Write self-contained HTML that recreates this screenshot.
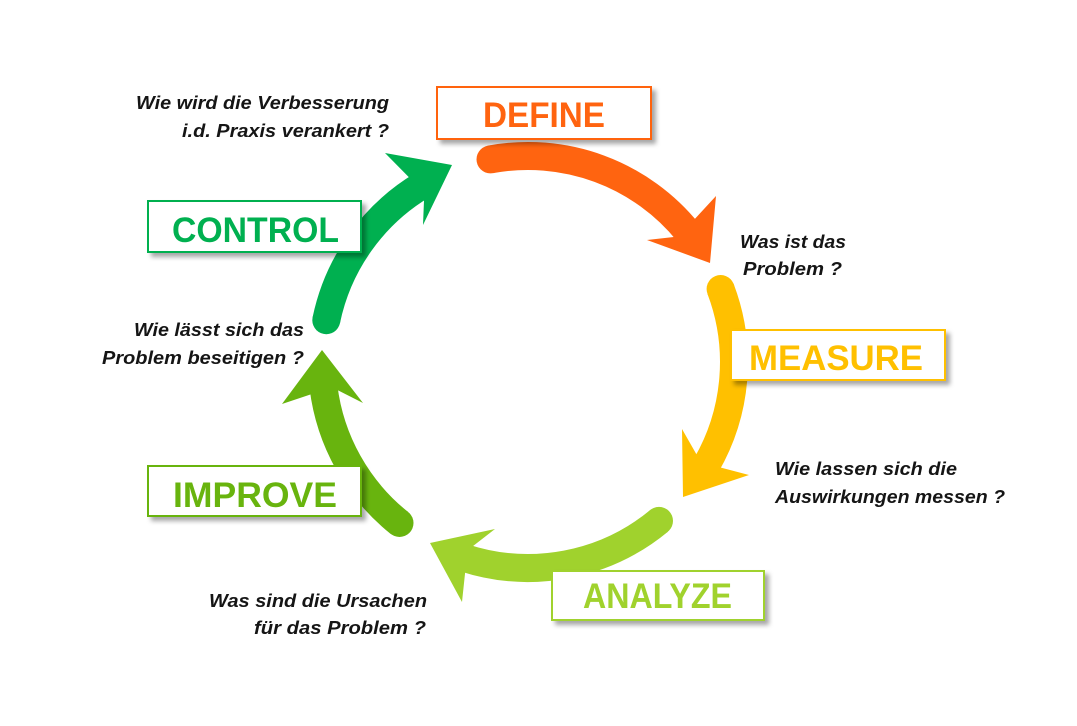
<!DOCTYPE html>
<html>
<head>
<meta charset="utf-8">
<style>
  html,body{margin:0;padding:0;background:#fff;}
  svg{display:block;}
  .q{font-family:"Liberation Sans",sans-serif;font-style:italic;font-weight:bold;font-size:18px;fill:#151515;}
  .b{font-family:"Liberation Sans",sans-serif;font-weight:bold;font-size:35px;}
</style>
</head>
<body>
<svg width="1077" height="726" viewBox="0 0 1077 726" xmlns="http://www.w3.org/2000/svg">
  <defs>
    <filter id="sh" x="-10%" y="-20%" width="130%" height="160%">
      <feDropShadow dx="4" dy="4" stdDeviation="2.5" flood-color="#000" flood-opacity="0.35"/>
    </filter>
  </defs>
  <rect width="1077" height="726" fill="#fff"/>

  <!-- DEFINE arrow (orange) -->
  <g fill="#ff6410">
    <path d="M490.5,159.4 A206,206 0 0 1 688.1,232.4" stroke="#ff6410" stroke-width="28" fill="none"/>
    <circle cx="490.5" cy="159.4" r="14"/>
    <polygon points="710,263 647,240 673.8,237 695,218.8 716,196"/>
  </g>

  <!-- MEASURE arrow (yellow) -->
  <g fill="#ffc000">
    <path d="M720.6,289 A206,206 0 0 1 706.4,465" stroke="#ffc000" stroke-width="28" fill="none"/>
    <circle cx="720.6" cy="289" r="14"/>
    <polygon points="683,497 682,429 696.4,454.2 721,467.6 749,475"/>
  </g>

  <!-- ANALYZE arrow (light green) -->
  <g fill="#a0d22d">
    <path d="M659,520.9 A206,206 0 0 1 464.3,557.9" stroke="#a0d22d" stroke-width="28" fill="none"/>
    <circle cx="659" cy="520.9" r="14"/>
    <polygon points="430,543 495,529 473.1,546 465.1,572.8 462,602"/>
  </g>

  <!-- IMPROVE arrow (green) -->
  <g fill="#68b40e">
    <path d="M399.5,523 A206,206 0 0 1 323.5,387.1" stroke="#68b40e" stroke-width="28" fill="none"/>
    <circle cx="399.5" cy="523" r="14"/>
    <polygon points="322,350 282,404 310.4,394.5 338.1,390.4 363,403"/>
  </g>

  <!-- CONTROL arrow (dark green) -->
  <g fill="#00b050">
    <path d="M326.3,320.2 A206,206 0 0 1 421.9,185.4" stroke="#00b050" stroke-width="28" fill="none"/>
    <circle cx="326.3" cy="320.2" r="14"/>
    <polygon points="452,165 385,153 408.8,177.1 424,200.6 423,225"/>
  </g>

  <!-- Boxes -->
  <g filter="url(#sh)">
    <rect x="437" y="87" width="214" height="52" fill="#fff" stroke="#ff6410" stroke-width="2"/>
  </g>
  <text class="b" x="483" y="127" fill="#ff6410" textLength="122" lengthAdjust="spacingAndGlyphs">DEFINE</text>

  <g filter="url(#sh)">
    <rect x="731" y="330" width="214" height="50" fill="#fff" stroke="#ffc000" stroke-width="2"/>
  </g>
  <text class="b" x="749" y="370" fill="#ffc000" textLength="174" lengthAdjust="spacingAndGlyphs">MEASURE</text>

  <g filter="url(#sh)">
    <rect x="552" y="571" width="212" height="49" fill="#fff" stroke="#a0d22d" stroke-width="2"/>
  </g>
  <text class="b" x="583" y="608" fill="#a0d22d" textLength="149" lengthAdjust="spacingAndGlyphs">ANALYZE</text>

  <g filter="url(#sh)">
    <rect x="148" y="466" width="213" height="50" fill="#fff" stroke="#68b40e" stroke-width="2"/>
  </g>
  <text class="b" x="173" y="507" fill="#68b40e" textLength="164" lengthAdjust="spacingAndGlyphs">IMPROVE</text>

  <g filter="url(#sh)">
    <rect x="148" y="201" width="213" height="51" fill="#fff" stroke="#00b050" stroke-width="2"/>
  </g>
  <text class="b" x="172" y="242" fill="#00b050" textLength="167" lengthAdjust="spacingAndGlyphs">CONTROL</text>

  <!-- Questions -->
  <text class="q" x="136" y="109" textLength="253" lengthAdjust="spacingAndGlyphs">Wie wird die Verbesserung</text>
  <text class="q" x="182" y="137" textLength="207" lengthAdjust="spacingAndGlyphs">i.d. Praxis verankert ?</text>

  <text class="q" x="740" y="248" textLength="106" lengthAdjust="spacingAndGlyphs">Was ist das</text>
  <text class="q" x="743" y="275" textLength="99" lengthAdjust="spacingAndGlyphs">Problem ?</text>

  <text class="q" x="134" y="336" textLength="170" lengthAdjust="spacingAndGlyphs">Wie lässt sich das</text>
  <text class="q" x="102" y="364" textLength="202" lengthAdjust="spacingAndGlyphs">Problem beseitigen ?</text>

  <text class="q" x="775" y="475" textLength="182" lengthAdjust="spacingAndGlyphs">Wie lassen sich die</text>
  <text class="q" x="775" y="503" textLength="230" lengthAdjust="spacingAndGlyphs">Auswirkungen messen ?</text>

  <text class="q" x="209" y="607" textLength="218" lengthAdjust="spacingAndGlyphs">Was sind die Ursachen</text>
  <text class="q" x="254" y="634" textLength="172" lengthAdjust="spacingAndGlyphs">für das Problem ?</text>
</svg>
</body>
</html>
